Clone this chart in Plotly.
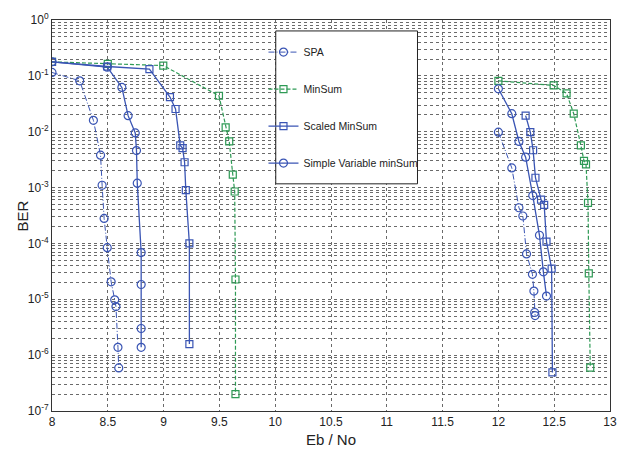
import plotly.graph_objects as go

# ---- data (None separates the two code-rate clusters) ----
spa_x = [8.0, 8.248, 8.371, 8.435, 8.449, 8.467, 8.495, 8.530, 8.562, 8.573, 8.591, 8.598,
         None,
         12.0, 12.12, 12.184, 12.219, 12.252, 12.305, 12.318, 12.325, 12.329]
spa_y = [0.115, 0.0815, 0.016, 0.0038, 0.0011, 2.8e-4, 8.4e-5, 2.05e-5, 9.8e-6, 7.4e-6, 1.38e-6, 5.9e-7,
         None,
         0.0098, 0.00225, 4.35e-4, 3.1e-4, 6.5e-5, 2.8e-5, 1.4e-5, 5.8e-6, 5.1e-6]

minsum_x = [8.0, 8.5, 8.997, 9.496, 9.556, 9.588, 9.620, 9.637, 9.644, 9.644,
            None,
            12.0, 12.495, 12.611, 12.675, 12.739, 12.767, 12.785, 12.803, 12.81, 12.823]
minsum_y = [0.178, 0.164, 0.153, 0.044, 0.012, 0.0067, 0.0017, 8.5e-4, 2.26e-5, 2.0e-7,
            None,
            0.0815, 0.0673, 0.0485, 0.021, 0.0057, 0.003, 0.0026, 5.3e-4, 2.9e-5, 6.0e-7]

scaled_x = [8.0, 8.495, 8.873, 9.057, 9.107, 9.149, 9.170, 9.188, 9.199, 9.231, 9.231,
            None,
            12.244, 12.286, 12.311, 12.332, 12.382, 12.410, 12.431, 12.477, 12.484]
scaled_y = [0.178, 0.147, 0.132, 0.0417, 0.0255, 0.0057, 0.0051, 0.00284, 9.0e-4, 1.0e-4, 1.58e-6,
            None,
            0.0194, 0.0098, 0.00466, 0.0015, 6.1e-4, 4.9e-4, 1.08e-4, 3.55e-5, 4.9e-7]

svm_x = [8.0, 8.495, 8.626, 8.682, 8.746, 8.757, 8.764, 8.799, 8.799, 8.799, 8.799,
         None,
         12.0, 12.12, 12.184, 12.244, 12.308, 12.368, 12.403, 12.431]
svm_y = [0.178, 0.143, 0.062, 0.0194, 0.0095, 0.0046, 0.0012, 6.85e-5, 1.84e-5, 3.0e-6, 1.38e-6,
         None,
         0.0587, 0.021, 0.0067, 0.0035, 7.2e-4, 1.4e-4, 3.1e-5, 1.14e-5]

x_ticks = [8, 8.5, 9, 9.5, 10, 10.5, 11, 11.5, 12, 12.5, 13]
x_ticktext = ["8", "8.5", "9", "9.5", "10", "10.5", "11", "11.5", "12", "12.5", "13"]
y_exps = [0, -1, -2, -3, -4, -5, -6, -7]
y_ticks = [10.0 ** e for e in y_exps]
y_ticktext = ["10<sup>%d</sup>" % e for e in y_exps]
y_minor = [k * 10.0 ** e for e in range(-7, 0) for k in range(2, 10)]
x_title = "Eb / No"
y_title = "BER"

BLUE = "#3a55b4"
GREEN = "#2e9a55"
FONT = "Liberation Sans, Arial, sans-serif"

fig = go.Figure()
fig.add_trace(go.Scatter(x=spa_x, y=spa_y, name="SPA", mode="lines+markers",
                         line=dict(color=BLUE, width=1, dash="6px,2px,1px,2px"),
                         marker=dict(symbol="circle-open", size=8, color=BLUE, line=dict(width=1.2)),
                         legendgroup="a"))
fig.add_trace(go.Scatter(x=minsum_x, y=minsum_y, name="MinSum", mode="lines+markers",
                         line=dict(color=GREEN, width=1.2, dash="4px,2px"),
                         marker=dict(symbol="square-open", size=7, color=GREEN, line=dict(width=1.2)),
                         legendgroup="b"))
fig.add_trace(go.Scatter(x=scaled_x, y=scaled_y, name="Scaled MinSum", mode="lines+markers",
                         line=dict(color=BLUE, width=1.3),
                         marker=dict(symbol="square-open", size=7, color=BLUE, line=dict(width=1.2)),
                         legendgroup="c"))
fig.add_trace(go.Scatter(x=svm_x, y=svm_y, name="Simple Variable minSum", mode="lines+markers",
                         line=dict(color=BLUE, width=1.3),
                         marker=dict(symbol="circle-open", size=8, color=BLUE, line=dict(width=1.2)),
                         legendgroup="d"))

grid_col = "#6a6a6a"
fig.update_layout(
    width=620, height=449,
    margin=dict(l=52, r=10, t=20, b=38),
    paper_bgcolor="white", plot_bgcolor="white",
    font=dict(family=FONT, size=12, color="#222"),
    showlegend=True,
    legend=dict(x=0.379, y=0.955, xanchor="left", yanchor="top",
                bgcolor="rgba(0,0,0,0)", borderwidth=0,
                tracegroupgap=18, font=dict(size=10.5, family=FONT, color="#222")),
    shapes=[dict(type="rect", xref="paper", yref="paper", x0=0.401, x1=0.655, y0=0.581, y1=0.972,
                 fillcolor="white", line=dict(color="#222", width=1), layer="above")],
    annotations=[
        dict(text=y_title, xref="paper", yref="paper", x=-0.052, y=0.5, textangle=-90,
             showarrow=False, font=dict(size=15), xanchor="center", yanchor="middle"),
        dict(text=x_title, xref="paper", yref="paper", x=0.5, y=-0.072, showarrow=False,
             font=dict(size=15), xanchor="center", yanchor="middle"),
    ],
)
fig.update_xaxes(range=[8, 13], tickvals=x_ticks, ticktext=x_ticktext,
                 showgrid=True, gridcolor=grid_col, griddash="dot", gridwidth=1,
                 showline=True, linecolor="#333", linewidth=1, mirror=True,
                 ticks="", zeroline=False, tickfont=dict(size=12), automargin=False)
fig.update_yaxes(type="log", range=[-7, 0], tickvals=y_ticks, ticktext=y_ticktext,
                 showgrid=True, gridcolor=grid_col, griddash="dot", gridwidth=1,
                 minor=dict(tickvals=y_minor, showgrid=True, gridcolor=grid_col, griddash="dot", gridwidth=1, ticks=""),
                 showline=True, linecolor="#333", linewidth=1, mirror=True,
                 ticks="", zeroline=False, tickfont=dict(size=12), automargin=False)

fig.write_html("out.html", config={"displayModeBar": False},
               post_script="document.body.style.margin='0px';document.body.style.overflow='hidden';")
